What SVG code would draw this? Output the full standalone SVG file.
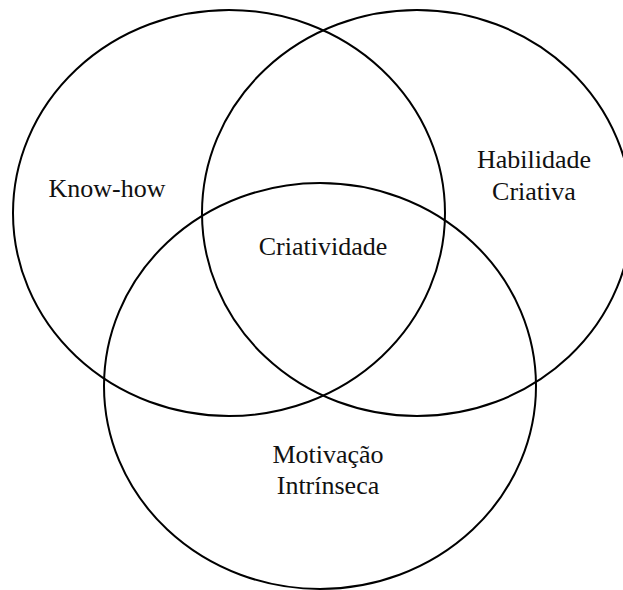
<svg xmlns="http://www.w3.org/2000/svg" width="623" height="590" viewBox="0 0 623 590">
<style>
.c{fill:none;stroke:#000;stroke-width:2}
.t{font-family:"Liberation Serif","Times New Roman",serif;font-size:26px;fill:#111;text-anchor:middle}
</style>
<rect width="623" height="590" fill="#fff"/>
<g id="knowhow">
<ellipse class="c" cx="229" cy="213" rx="216" ry="203"/>
<text class="t" x="107" y="197">Know-how</text>
</g>
<g id="habilidade">
<ellipse class="c" cx="417" cy="213" rx="215" ry="203"/>
<text class="t" x="534" y="168">Habilidade</text>
<text class="t" x="534" y="200">Criativa</text>
</g>
<g id="motivacao">
<ellipse class="c" cx="320" cy="386" rx="216" ry="203"/>
<text class="t" x="328" y="463">Motivação</text>
<text class="t" x="328" y="494">Intrínseca</text>
</g>
<g id="criatividade">
<text class="t" x="323" y="255">Criatividade</text>
</g>
<g id="connectors"></g>
</svg>
